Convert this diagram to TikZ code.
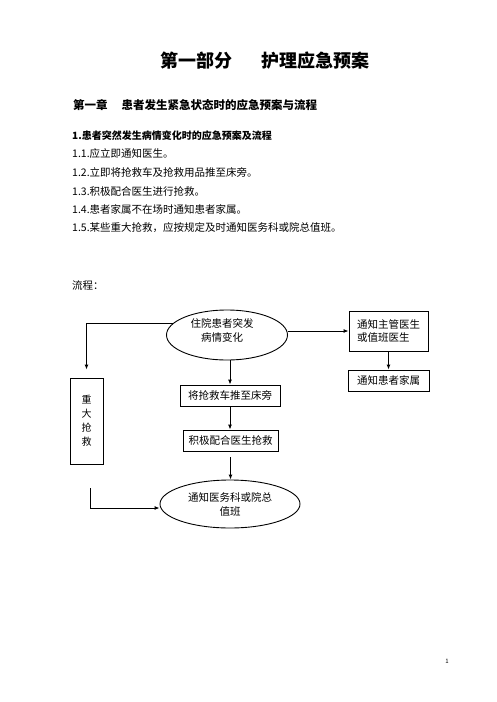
\documentclass[tikz,border=0pt]{standalone}
\usepackage{fontspec}
\setmainfont{Noto Sans CJK SC}
\usetikzlibrary{shapes.geometric,arrows.meta}
\begin{document}
\begin{tikzpicture}[x=1pt,y=-1pt,
  box/.style={draw,line width=0.9pt,inner sep=0pt,font=\fontsize{10.5pt}{13pt}\selectfont,align=left},
  oval/.style={ellipse,draw,line width=0.9pt,inner sep=0pt,font=\fontsize{10.5pt}{14pt}\selectfont,align=center},
  arr/.style={line width=0.9pt,-{Latex[length=5pt,width=4pt]}},
  conn/.style={line width=0.9pt},
  txt/.style={anchor=west,inner sep=0pt,font=\fontsize{10.5pt}{13pt}\selectfont},
  plain/.style={inner sep=0pt,align=center,font=\fontsize{10.5pt}{14pt}\selectfont}]
\useasboundingbox (0,0) rectangle (496,702);
\fill[white] (0,0) rectangle (496,702);
% headings
\node[inner sep=0pt,font=\fontsize{18pt}{20pt}\selectfont\bfseries] (title) at (265,61) {第一部分\hspace{29pt}护理应急预案};
\node[txt,font=\fontsize{11.5pt}{13pt}\selectfont\bfseries] (chap) at (73,105) {第一章\hspace{14pt}患者发生紧急状态时的应急预案与流程};
\node[txt,font=\fontsize{10pt}{12pt}\selectfont\bfseries] (head) at (72,136) {1.患者突然发生病情变化时的应急预案及流程};
\node[txt] (i1) at (72,154) {1.1.应立即通知医生。};
\node[txt] (i2) at (72,172.5) {1.2.立即将抢救车及抢救用品推至床旁。};
\node[txt] (i3) at (72,191) {1.3.积极配合医生进行抢救。};
\node[txt] (i4) at (72,209.5) {1.4.患者家属不在场时通知患者家属。};
\node[txt] (i5) at (72,228) {1.5.某些重大抢救，应按规定及时通知医务科或院总值班。};
\node[txt] (flow) at (72,285) {流程：};
% flowchart
\node[oval,minimum width=121pt,minimum height=50pt] (e1) at (227,335) {};
\node[plain] (e1t) at (222,330) {住院患者突发\\病情变化};
\node[box,minimum width=79pt,minimum height=40pt] (b1) at (388.5,331) {通知主管医生\\或值班医生};
\node[box,minimum width=81pt,minimum height=21pt] (b2) at (388.5,380.5) {通知患者家属};
\node[box,minimum width=100pt,minimum height=21pt] (b3) at (230,395.5) {将抢救车推至床旁};
\node[box,minimum width=95pt,minimum height=21pt] (b4) at (230.5,440.5) {积极配合医生抢救};
\node[box,minimum width=33pt,minimum height=86pt,align=center,font=\fontsize{10pt}{14pt}\selectfont] (b5) at (86.5,421) {重\\大\\抢\\救};
\node[oval,minimum width=140pt,minimum height=48pt] (e2) at (230,504) {通知医务科或院总\\值班};
\coordinate (c1) at (90,488);
% connectors
\draw[arr] (e1.east |- b1.west) -- (b1.west);
\draw[arr] (b1.south) -- (b2.north);
\draw[arr] (e1.168) -| ([yshift=8pt]b5.north);
\draw[arr] (b3.north |- e1.south) -- (b3.north);
\draw[arr] (b3.south) -- (b3.south |- b4.north);
\draw[arr] ([yshift=-6pt]b4.south) -- (b4.south |- e2.north);
\draw[arr] (c1) |- ([yshift=-4pt]e2.west);
\node[inner sep=0pt,font=\fontsize{6pt}{7pt}\selectfont] (pg) at (447,661) {1};
\end{tikzpicture}
\end{document}
